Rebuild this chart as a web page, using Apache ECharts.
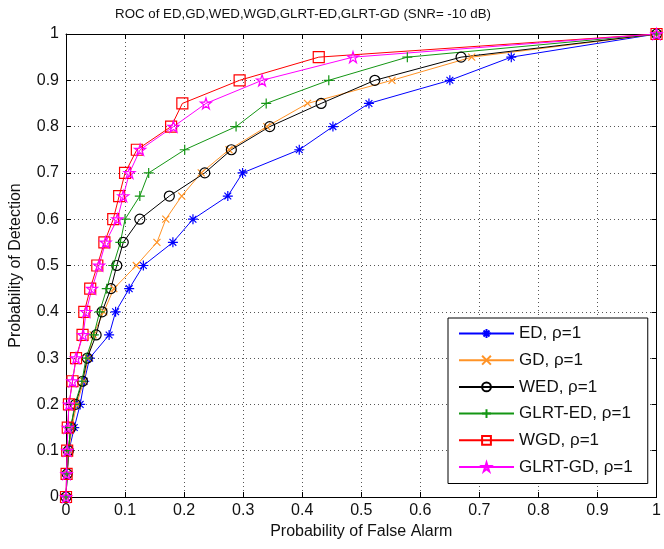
<!DOCTYPE html>
<html>
<head>
<meta charset="utf-8">
<script src="https://cdn.jsdelivr.net/npm/echarts@6/dist/echarts.min.js"></script>
<style>
  html, body { margin: 0; padding: 0; background: #fff; }
  #chart { width: 664px; height: 549px; }
</style>
</head>
<body>
<div id="chart"></div>
<script>
// Detection probabilities shared by every curve (0 to 1 in steps of 0.05)
const pd = [0, 0.05, 0.10, 0.15, 0.20, 0.25, 0.30, 0.35, 0.40, 0.45, 0.50,
            0.55, 0.60, 0.65, 0.70, 0.75, 0.80, 0.85, 0.90, 0.95, 1.00];

// False-alarm probabilities of each detector at the detection levels above
const pfaED     = [0, 0.002, 0.005, 0.014, 0.024, 0.031, 0.040, 0.073, 0.084, 0.107, 0.131,
                   0.181, 0.215, 0.274, 0.299, 0.395, 0.452, 0.513, 0.650, 0.754, 1];
const pfaGD     = [0, 0.002, 0.005, 0.010, 0.018, 0.030, 0.037, 0.046, 0.064, 0.081, 0.119,
                   0.154, 0.169, 0.196, 0.229, 0.276, 0.340, 0.409, 0.552, 0.687, 1];
const pfaWED    = [0, 0.002, 0.004, 0.008, 0.016, 0.028, 0.036, 0.051, 0.061, 0.076, 0.086,
                   0.097, 0.125, 0.175, 0.235, 0.280, 0.345, 0.432, 0.523, 0.669, 1];
const pfaGLRTED = [0, 0.002, 0.004, 0.008, 0.015, 0.027, 0.034, 0.047, 0.057, 0.069, 0.080,
                   0.092, 0.100, 0.125, 0.140, 0.201, 0.288, 0.339, 0.445, 0.578, 1];
const pfaWGD    = [0, 0.001, 0.002, 0.003, 0.005, 0.011, 0.017, 0.028, 0.031, 0.041, 0.053,
                   0.065, 0.080, 0.090, 0.100, 0.120, 0.178, 0.197, 0.294, 0.428, 1];
const pfaGLRTGD = [0, 0.001, 0.002, 0.003, 0.005, 0.011, 0.017, 0.029, 0.034, 0.044, 0.056,
                   0.067, 0.087, 0.097, 0.1075, 0.1255, 0.182, 0.237, 0.332, 0.486, 1];

const seriesNames = ['ED, ρ=1', 'GD, ρ=1', 'WED, ρ=1', 'GLRT-ED, ρ=1', 'WGD, ρ=1', 'GLRT-GD, ρ=1'];
const seriesPfa = [pfaED, pfaGD, pfaWED, pfaGLRTED, pfaWGD, pfaGLRTGD];

const titleText = 'ROC of ED,GD,WED,WGD,GLRT-ED,GLRT-GD (SNR= -10 dB)';
const xName = 'Probability of False Alarm';
const yName = 'Probability of Detection';

// Marker shapes (asterisk, cross, circle, plus, square, pentagram)
const asterisk = 'path://M5 0L5 10M0 5L10 5M1.6 1.6L8.4 8.4M1.6 8.4L8.4 1.6';
const cross = 'path://M0 0L10 10M0 10L10 0';
const plus = 'path://M5 0L5 10M0 5L10 5';
const pentagram = 'path://M0,-5L1.123,-1.545L4.755,-1.545L1.817,0.59L2.939,4.045L0,1.91L-2.939,4.045L-1.817,0.59L-4.755,-1.545L-1.123,-1.545Z';

const styles = [
  { color: '#0000ff', symbol: asterisk, size: 10 },
  { color: '#ff9326', symbol: cross, size: 7 },
  { color: '#000000', symbol: 'circle', size: 10 },
  { color: '#149614', symbol: plus, size: 10 },
  { color: '#ff0000', symbol: 'rect', size: 11 },
  { color: '#ff00ff', symbol: pentagram, size: 11 }
];

const font = 'Liberation Sans, Arial, Helvetica, sans-serif';

const series = seriesNames.map((name, i) => ({
  name: name,
  type: 'line',
  xAxisIndex: 0,
  yAxisIndex: 0,
  data: seriesPfa[i].map((x, k) => [x, pd[k]]),
  symbol: styles[i].symbol,
  symbolSize: styles[i].size,
  showAllSymbol: true,
  clip: false,
  lineStyle: { color: styles[i].color, width: 1 },
  itemStyle: { color: 'rgba(0,0,0,0)', borderColor: styles[i].color, borderWidth: 1.2 },
  emphasis: { disabled: true },
  animation: false
}));

const splitDotted = { show: true, lineStyle: { color: '#555', width: 1, type: [1, 3] } };
const boxLine = { show: true, onZero: false, lineStyle: { color: '#000', width: 1 } };
const tickInside = { show: true, inside: true, length: 5, lineStyle: { color: '#000' } };

const option = {
  animation: false,
  backgroundColor: '#fff',
  title: {
    text: titleText,
    left: 298,
    top: 3,
    textAlign: 'center',
    textStyle: { fontFamily: font, fontSize: 13.3, fontWeight: 'normal', color: '#111' }
  },
  grid: { left: 65, right: 5, top: 34, bottom: 52, containLabel: false },
  xAxis: [
    {
      type: 'value', min: 0, max: 1, interval: 0.1, position: 'bottom',
      name: xName, nameLocation: 'middle', nameGap: 24,
      nameTextStyle: { fontFamily: font, fontSize: 16, color: '#111' },
      axisLine: boxLine,
      axisTick: tickInside,
      axisLabel: { fontFamily: font, fontSize: 16, color: '#111', margin: 6 },
      splitLine: splitDotted
    },
    {
      type: 'value', min: 0, max: 1, interval: 0.1, position: 'top',
      axisLine: boxLine,
      axisTick: tickInside,
      axisLabel: { show: false },
      splitLine: { show: false }
    }
  ],
  yAxis: [
    {
      type: 'value', min: 0, max: 1, interval: 0.1, position: 'left',
      name: yName, nameLocation: 'middle', nameGap: 42, nameRotate: 90,
      nameTextStyle: { fontFamily: font, fontSize: 16, color: '#111' },
      axisLine: boxLine,
      axisTick: tickInside,
      axisLabel: { fontFamily: font, fontSize: 16, color: '#111', margin: 7 },
      splitLine: splitDotted
    },
    {
      type: 'value', min: 0, max: 1, interval: 0.1, position: 'right',
      axisLine: boxLine,
      axisTick: tickInside,
      axisLabel: { show: false },
      splitLine: { show: false }
    }
  ],
  legend: {
    orient: 'vertical',
    left: 448,
    top: 318,
    padding: [7, 15, 8, 10],
    itemWidth: 55,
    itemHeight: 11,
    itemGap: 9.7,
    backgroundColor: '#fff',
    borderColor: '#000',
    borderWidth: 1,
    borderRadius: 0,
    selectedMode: false,
    textStyle: { fontFamily: font, fontSize: 17, color: '#111' },
    data: seriesNames
  },
  series: series
};

const chart = echarts.init(document.getElementById('chart'), null, { renderer: 'canvas' });
chart.setOption(option);
</script>
</body>
</html>
